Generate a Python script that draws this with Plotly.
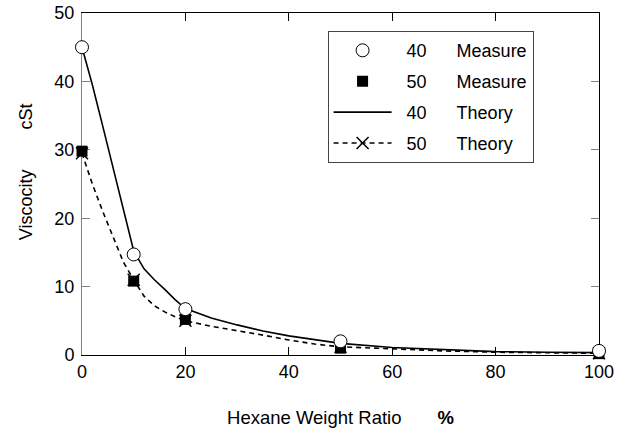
import plotly.graph_objects as go

# ---- data ----
measure_x = [0, 10, 20, 50, 100]
measure_40 = [45.0, 14.7, 6.7, 2.0, 0.6]
measure_50 = [29.8, 10.8, 5.2, 1.0, 0.2]

theory_x = [0, 2, 4, 6, 8, 10, 12, 14, 16, 18, 20, 25, 30, 35, 40, 45, 50, 60, 70, 80, 90, 100]
theory_40 = [45.0, 39.5, 33.5, 27.5, 21.5, 15.2, 12.6, 11.0, 9.6, 8.1, 6.8, 5.4, 4.4, 3.5, 2.8, 2.2,
             1.7, 1.1, 0.75, 0.5, 0.4, 0.35]
theory_50 = [29.5, 25.0, 21.0, 17.3, 13.6, 11.0, 8.6, 7.2, 6.3, 5.6, 5.0, 4.2, 3.6, 2.9, 2.2, 1.6,
             1.2, 0.88, 0.6, 0.4, 0.3, 0.25]

y_ticks = [0, 10, 20, 30, 40, 50]
x_ticks = [0, 20, 40, 60, 80, 100]

FONT = "Arial, 'Liberation Sans', sans-serif"
SP = "\u00a0"

# theory-50 values at the measured compositions (for the x markers)
theory_50_at_meas = [theory_50[theory_x.index(xv)] for xv in measure_x]

fig = go.Figure()

fig.add_trace(go.Scatter(
    x=theory_x, y=theory_40, mode="lines", name=SP * 2 + "40" + SP * 6 + "Theory",
    line=dict(color="black", width=1.6), legendrank=3, legendgroup="g3", cliponaxis=False))

fig.add_trace(go.Scatter(
    x=theory_x, y=theory_50, mode="lines", showlegend=False,
    line=dict(color="black", width=1.6, dash="5px,4px"), cliponaxis=False))

fig.add_trace(go.Scatter(
    x=measure_x, y=theory_50_at_meas, mode="markers", showlegend=False,
    marker=dict(symbol="x-thin", size=12, line=dict(color="black", width=1.5), color="black"),
    cliponaxis=False))

# legend entry for theory 50 (line + x marker)
fig.add_trace(go.Scatter(
    x=[None], y=[None], mode="lines+markers", name=SP * 2 + "50" + SP * 6 + "Theory",
    line=dict(color="black", width=1.6, dash="5px,4px"),
    marker=dict(symbol="x-thin", size=12, line=dict(color="black", width=1.5), color="black"),
    legendrank=4, legendgroup="g4"))

fig.add_trace(go.Scatter(
    x=measure_x, y=measure_50, mode="markers", name=SP * 2 + "50" + SP * 6 + "Measure",
    marker=dict(symbol="square", size=11, color="black", line=dict(color="black", width=0)),
    legendrank=2, legendgroup="g2", cliponaxis=False))

fig.add_trace(go.Scatter(
    x=measure_x, y=measure_40, mode="markers", name=SP * 2 + "40" + SP * 6 + "Measure",
    marker=dict(symbol="circle", size=13, color="white", line=dict(color="black", width=1)),
    legendrank=1, legendgroup="g1", cliponaxis=False))

# dummy trace for right axis
fig.add_trace(go.Scatter(x=[None], y=[None], yaxis="y2", showlegend=False, hoverinfo="skip"))

fig.update_layout(
    width=626, height=434,
    margin=dict(l=82, r=27, t=13, b=79, autoexpand=False),
    paper_bgcolor="white", plot_bgcolor="white",
    font=dict(family=FONT, size=18, color="black"),
    showlegend=True,
    legend=dict(
        x=0.475, y=0.947, xanchor="left", yanchor="top",
        bgcolor="white", bordercolor="#444", borderwidth=1,
        font=dict(family=FONT, size=18, color="black"),
        itemwidth=58, traceorder="grouped", tracegroupgap=4.5,
    ),
    xaxis=dict(
        range=[0, 100], tickvals=x_ticks, ticktext=[str(v) for v in x_ticks],
        showline=True, linecolor="black", linewidth=1, mirror="ticks",
        ticks="inside", ticklen=8, tickcolor="black", tickwidth=1,
        showgrid=False, zeroline=False, layer="below traces", automargin=False,
        tickfont=dict(size=18),
        title=dict(text="Hexane Weight Ratio" + SP * 7 + "<b>%</b>", font=dict(size=18.5), standoff=30),
    ),
    yaxis=dict(
        range=[0, 50], tickvals=y_ticks, ticktext=[str(v) for v in y_ticks],
        showline=True, linecolor="#808080", linewidth=1, mirror=False,
        ticks="inside", ticklen=8, tickcolor="#808080", tickwidth=1,
        showgrid=False, zeroline=False, layer="below traces", automargin=False,
        tickfont=dict(size=18), ticklabelstandoff=3,
    ),
    yaxis2=dict(
        range=[0, 50], tickvals=y_ticks, overlaying="y", side="right",
        showline=True, linecolor="black", linewidth=1,
        ticks="inside", ticklen=8, tickcolor="#808080", tickwidth=1,
        showticklabels=False, showgrid=False, zeroline=False, layer="below traces",
        automargin=False,
    ),
    annotations=[dict(
        text="Viscocity" + SP * 8 + "cSt", textangle=-90,
        xref="paper", yref="paper", x=-0.108, y=0.535,
        xanchor="center", yanchor="middle", showarrow=False,
        font=dict(family=FONT, size=18, color="black"),
    )],
)

fig.write_html("out.html", config={"displayModeBar": False},
               post_script="document.body.style.margin='0px';")
